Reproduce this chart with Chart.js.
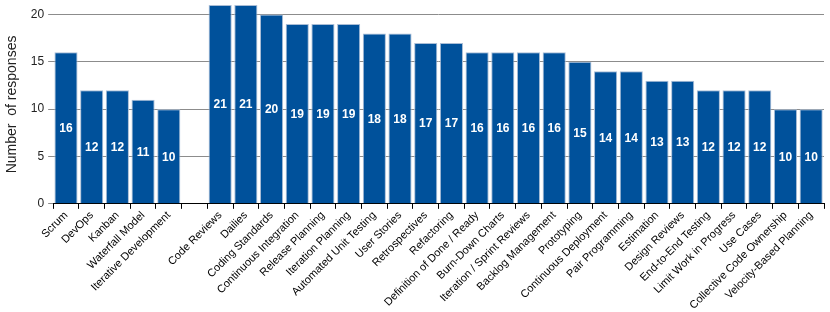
<!DOCTYPE html>
<html>
<head>
<meta charset="utf-8">
<script src="https://cdn.jsdelivr.net/npm/chart.js@4"></script>
<style>
  html, body { margin: 0; padding: 0; background: #fff; }
  #wrap { width: 830px; height: 312px; }
</style>
</head>
<body>
<div id="wrap"><canvas id="responsesChart"></canvas></div>
<script>
const categories = [
    'Scrum', 'DevOps', 'Kanban', 'Waterfall Model', 'Iterative Development', '',
    'Code Reviews', 'Dailies', 'Coding Standards', 'Continuous Integration', 'Release Planning',
    'Iteration Planning', 'Automated Unit Testing', 'User Stories', 'Retrospectives', 'Refactoring',
    'Definition of Done / Ready', 'Burn-Down Charts', 'Iteration / Sprint Reviews', 'Backlog Management',
    'Prototyping', 'Continuous Deployment', 'Pair Programming', 'Estimation', 'Design Reviews',
    'End-to-End Testing', 'Limit Work in Progress', 'Use Cases', 'Collective Code Ownership',
    'Velocity-Based Planning'
];
const responses = [
    16, 12, 12, 11, 10, null,
    21, 21, 20, 19, 19, 19, 18, 18, 17, 17, 16, 16, 16, 16, 15, 14, 14, 13, 13, 12, 12, 12, 10, 10
];
const yTicks = [0, 5, 10, 15, 20];

// value labels in the middle of each bar
const barLabels = {
    id: 'barLabels',
    afterDatasetsDraw(chart) {
        const ctx = chart.ctx;
        const meta = chart.getDatasetMeta(0);
        ctx.save();
        ctx.fillStyle = '#fff';
        ctx.font = 'bold 12px "Liberation Sans", Arial, sans-serif';
        ctx.textAlign = 'center';
        ctx.textBaseline = 'middle';
        meta.data.forEach((bar, i) => {
            const v = responses[i];
            if (v == null) return;
            const c = bar.getCenterPoint();
            ctx.fillText(String(v), c.x, c.y + 1);
        });
        ctx.restore();
    }
};

new Chart(document.getElementById('responsesChart'), {
    type: 'bar',
    data: {
        labels: categories,
        datasets: [{
            data: responses,
            backgroundColor: '#00519b',
            borderColor: '#a9bdd6',
            borderWidth: 1,
            barPercentage: 0.9,
            categoryPercentage: 1.0
        }]
    },
    options: {
        responsive: true,
        maintainAspectRatio: false,
        animation: false,
        layout: { padding: { left: 4, right: 6, top: 5, bottom: 0 } },
        plugins: {
            legend: { display: false },
            tooltip: { enabled: false }
        },
        scales: {
            x: {
                offset: true,
                grid: {
                    offset: true,
                    drawOnChartArea: false,
                    drawTicks: true,
                    tickLength: 5,
                    color: '#000'
                },
                border: { display: true, color: '#000', width: 1 },
                ticks: {
                    autoSkip: false,
                    minRotation: 45,
                    maxRotation: 45,
                    padding: 0,
                    color: '#000',
                    font: { size: 11, family: '"Liberation Sans", Arial, sans-serif' }
                }
            },
            y: {
                min: 0,
                max: 21,
                afterBuildTicks(axis) {
                    axis.ticks = yTicks.map(v => ({ value: v }));
                },
                afterFit(axis) {
                    axis.paddingTop = 0;
                    axis.paddingBottom = 0;
                },
                grid: {
                    color: '#8c8c8c',
                    lineWidth: 1,
                    tickLength: 5
                },
                border: { display: false },
                ticks: {
                    padding: 4,
                    color: '#222',
                    font: { size: 12, family: '"Liberation Sans", Arial, sans-serif' }
                },
                title: {
                    display: true,
                    text: 'Number  of responses',
                    color: '#222',
                    padding: { top: 0, bottom: 6 },
                    font: { size: 14, family: '"Liberation Sans", Arial, sans-serif' }
                }
            }
        }
    },
    plugins: [barLabels]
});
</script>
</body>
</html>
